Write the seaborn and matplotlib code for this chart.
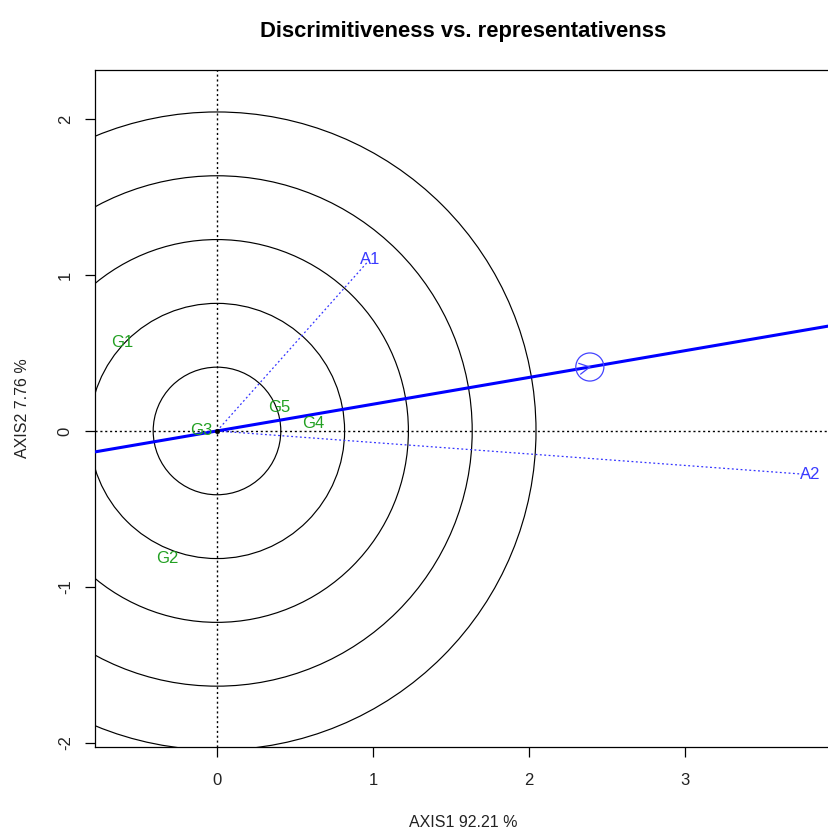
import numpy as np
import pandas as pd
import matplotlib
matplotlib.use("Agg")
import matplotlib.pyplot as plt
from matplotlib.patches import Circle
import seaborn as sns

# ---- data ----
env_names = ["A1", "A2"]
env_x = [0.98, 3.80]
env_y = [1.10, -0.28]

gen_names = ["G1", "G2", "G3", "G4", "G5"]
gen_x = [-0.61, -0.32, -0.10, 0.615, 0.40]
gen_y = [0.57, -0.82, 0.005, 0.045, 0.15]

circle_radii = [0.409, 0.818, 1.227, 1.636, 2.045]

x_ticks = [0, 1, 2, 3]
y_ticks = [-2, -1, 0, 1, 2]

title = "Discrimitiveness vs. representativenss"
x_label = "AXIS1 92.21 %"
y_label = "AXIS2 7.76 %"

sns.set_style("white")
plt.rcParams["font.family"] = ["Liberation Sans", "DejaVu Sans"]

fig = plt.figure(figsize=(8.29, 8.32), dpi=100)
ax = fig.add_axes([95 / 829, 85 / 832, 736 / 829, 677 / 832])

xlim = (-0.782, 3.936)
ylim = (-2.026, 2.314)
ax.set_xlim(*xlim)
ax.set_ylim(*ylim)

# concentric circles
for r in circle_radii:
    ax.add_patch(Circle((0, 0), r, fill=False, ec="black", lw=0.85, zorder=1))

# reference dotted axes
ax.axhline(0, color="black", ls=(0, (1.5, 2)), lw=1, zorder=2)
ax.axvline(0, color="black", ls=(0, (1.5, 2)), lw=1, zorder=2)

# average environment axis
mx, my = np.mean(env_x), np.mean(env_y)
slope = my / mx
xs = np.array(xlim)
line_df = pd.DataFrame({"x": xs, "y": slope * xs})
sns.lineplot(data=line_df, x="x", y="y", color="blue", lw=2.2, ax=ax, zorder=4, sort=False)

# environment vectors
for n, x, y in zip(env_names, env_x, env_y):
    df = pd.DataFrame({"x": [0, x], "y": [0, y]})
    sns.lineplot(data=df, x="x", y="y", color="#3333ff", lw=0.9,
                 ls=(0, (1.5, 2)), ax=ax, zorder=3, sort=False)
    ax.text(x, y, n, color="#3a3aff", fontsize=12, ha="center", va="center", zorder=5)

# average environment marker: circle + arrowhead
ax.add_patch(Circle((mx, my), 0.09, fill=False, ec="#4444ff", lw=0.9, zorder=5))
ang = np.arctan(slope)
L = 0.075
for da in (np.deg2rad(28), -np.deg2rad(28)):
    a = ang + np.pi + da
    ax.plot([mx, mx + L * np.cos(a)], [my, my + L * np.sin(a)], color="#4444ff", lw=0.9, zorder=5)

# genotype labels
for n, x, y in zip(gen_names, gen_x, gen_y):
    ax.text(x, y, n, color="#22a022", fontsize=12, ha="center", va="center", zorder=6)

# origin
sns.scatterplot(x=[0], y=[0], color="black", s=12, ax=ax, zorder=7, edgecolor="black")

ax.set_xticks(x_ticks)
ax.set_yticks(y_ticks)
ax.set_xticklabels([str(t) for t in x_ticks], fontsize=12)
ax.set_yticklabels([str(t) for t in y_ticks], fontsize=12, rotation=90, va="center")
ax.tick_params(bottom=True, left=True, top=False, right=False, direction="out",
               length=7, width=0.9, color="black", labelcolor="#222222")
ax.tick_params(axis="x", pad=12)
ax.tick_params(axis="y", pad=9)
ax.set_xlabel(x_label, fontsize=11.5, labelpad=19, color="#222222")
ax.set_ylabel(y_label, fontsize=11.5, labelpad=20, color="#222222")
for s in ax.spines.values():
    s.set_color("black")
    s.set_linewidth(0.9)
ax.set_title(title, fontsize=15.8, fontweight="bold", pad=24, color="black")

fig.savefig("out.png", dpi=100)
